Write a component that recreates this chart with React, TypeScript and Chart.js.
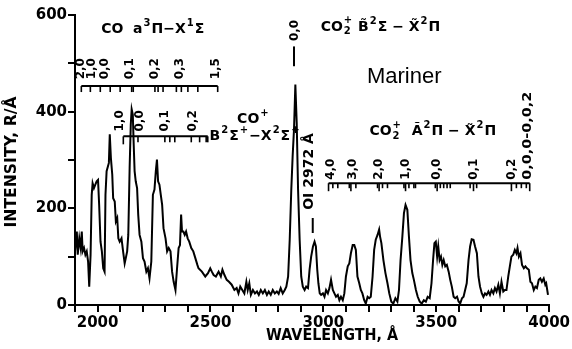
import React, { useEffect, useRef } from 'react';
import { Chart, registerables } from 'chart.js';

Chart.register(...registerables);

// Spectrum (wavelength in Å, intensity in R/Å)
const wavelength = [
  1900, 1908, 1912, 1919, 1925, 1930, 1934, 1940, 1946, 1952, 1958, 1963, 1969, 1974, 1978, 1984, 1990, 1996,
  2002, 2007, 2013, 2019, 2025, 2031, 2035, 2040, 2046, 2050, 2054, 2059, 2065, 2069, 2076, 2081, 2087, 2092,
  2098, 2106, 2113, 2120, 2125, 2131, 2136, 2142, 2147, 2151, 2156, 2160, 2164, 2169, 2175, 2180, 2186, 2194,
  2201, 2208, 2216, 2223, 2230, 2238, 2245, 2252, 2258, 2263, 2268, 2274, 2280, 2286, 2292, 2301, 2308, 2315,
  2323, 2330, 2337, 2345, 2352, 2359, 2365, 2370, 2374, 2380, 2386, 2392, 2399, 2406, 2415, 2424, 2433, 2442,
  2447, 2462, 2477, 2489, 2499, 2506, 2514, 2524, 2536, 2546, 2553, 2562, 2572, 2582, 2594, 2606, 2616, 2624,
  2632, 2641, 2650, 2659, 2665, 2672, 2679, 2688, 2697, 2706, 2714, 2723, 2732, 2741, 2750, 2758, 2767, 2776,
  2785, 2794, 2802, 2811, 2820, 2829, 2836, 2844, 2851, 2858, 2864, 2870, 2876, 2882, 2888, 2895, 2902, 2909,
  2917, 2924, 2932, 2939, 2946, 2954, 2961, 2967, 2973, 2978, 2984, 2990, 2998, 3005, 3012, 3020, 3027, 3034,
  3042, 3049, 3056, 3064, 3071, 3078, 3086, 3093, 3100, 3108, 3115, 3122, 3130, 3137, 3144, 3151, 3159, 3166,
  3173, 3181, 3188, 3196, 3203, 3210, 3218, 3225, 3232, 3240, 3247, 3251, 3257, 3266, 3275, 3284, 3292, 3301,
  3310, 3319, 3328, 3335, 3342, 3350, 3357, 3364, 3372, 3379, 3386, 3394, 3401, 3410, 3418, 3427, 3436, 3445,
  3454, 3462, 3471, 3479, 3486, 3492, 3498, 3504, 3509, 3515, 3521, 3527, 3533, 3540, 3547, 3555, 3562, 3569,
  3577, 3584, 3592, 3599, 3606, 3614, 3621, 3628, 3635, 3643, 3650, 3657, 3665, 3672, 3680, 3687, 3694, 3702,
  3709, 3716, 3723, 3731, 3738, 3745, 3753, 3760, 3767, 3775, 3782, 3789, 3797, 3804, 3811, 3819, 3826, 3833,
  3841, 3848, 3855, 3860, 3866, 3873, 3880, 3888, 3895, 3902, 3910, 3917, 3924, 3932, 3939, 3946, 3954, 3961,
  3968, 3976, 3983, 3987, 3995,
];
const intensity = [
  111, 152, 104, 138, 118, 152, 111, 118, 104, 111, 90, 38, 104, 228, 252, 242, 249, 256,
  259, 207, 131, 111, 76, 69, 228, 277, 287, 294, 353, 304, 270, 221, 214, 173, 180, 138,
  131, 138, 111, 86, 97, 111, 145, 284, 373, 405, 394, 332, 277, 256, 242, 187, 145, 131,
  97, 90, 69, 76, 55, 90, 228, 239, 277, 301, 256, 249, 228, 207, 159, 138, 111, 118,
  111, 69, 48, 31, 76, 118, 124, 187, 152, 152, 145, 152, 138, 131, 118, 111, 97, 83,
  76, 69, 59, 66, 76, 69, 62, 59, 69, 59, 73, 62, 52, 48, 42, 31, 35, 24,
  38, 31, 24, 48, 31, 45, 21, 31, 24, 28, 21, 31, 24, 31, 21, 28, 21, 31,
  24, 28, 23, 35, 24, 31, 38, 59, 135, 239, 308, 363, 456, 377, 239, 135, 59, 38,
  31, 38, 35, 73, 100, 121, 131, 121, 73, 45, 24, 21, 24, 17, 31, 24, 35, 52,
  31, 24, 17, 21, 10, 17, 10, 24, 59, 80, 86, 107, 124, 124, 114, 59, 45, 31,
  24, 10, 3, 17, 14, 17, 59, 114, 135, 145, 156, 142, 128, 93, 66, 45, 24, 7,
  3, 14, 7, 31, 93, 142, 190, 207, 197, 142, 93, 66, 52, 31, 17, 7, 3, 10,
  7, 17, 14, 45, 93, 128, 131, 100, 121, 93, 100, 83, 93, 80, 83, 69, 52, 38,
  17, 14, 17, 7, 3, 14, 17, 31, 45, 93, 121, 136, 135, 121, 107, 59, 38, 24,
  17, 24, 21, 28, 21, 31, 24, 35, 28, 42, 24, 48, 28, 31, 31, 59, 80, 100,
  104, 114, 107, 118, 100, 107, 83, 76, 80, 76, 73, 48, 45, 31, 38, 35, 52, 55,
  48, 55, 42, 45, 21,
];

// Band identifications (label positions in Å, tick positions in Å)
const coCameronLabels = ['2,0', '1,0', '0,0', '0,1', '0,2', '0,3', '1,5'];
const coCameronLabelPos = [1924, 1975, 2034, 2144, 2254, 2364, 2525];
const coCameronTicks = [1928, 1968, 2012, 2056, 2100, 2151, 2158, 2254, 2268, 2290, 2349, 2371, 2400, 2444, 2532];

const coPlusLabels = ['1,0', '0,0', '0,1', '0,2'];
const coPlusLabelPos = [2100, 2188, 2298, 2421];
const coPlusTicks = [2114, 2179, 2298, 2320, 2342, 2415, 2452, 2481, 2488];

const co2AXLabels = ['4,0', '3,0', '2,0', '1,0', '0,0', '0,1', '0,2', '0,0,0-0,0,2'];
const co2AXLabelPos = [3034, 3130, 3247, 3367, 3503, 3665, 3833, 3904];
const co2AXTicks = [3023, 3042, 3064, 3115, 3122, 3144, 3240, 3247, 3262, 3284, 3357, 3364, 3379, 3401, 3408,
  3496, 3504, 3518, 3533, 3548, 3562, 3650, 3665, 3679, 3833, 3855, 3877, 3899, 3914];
const co2AXMajor = [3023, 3122, 3247, 3364, 3504, 3665, 3833, 3914];

const co2BXLabel = '0,0';
const co2BXPos = 2870;
const oiLabel = 'OI 2972 Å';
const oiPos = 2953;

const xTitle = 'WAVELENGTH, Å';
const yTitle = 'INTENSITY, R/Å';
const mission = 'Mariner';

const FONT = '"DejaVu Sans", sans-serif';

type Seg = [string, string?, string?];

function drawRich(ctx: CanvasRenderingContext2D, segs: Seg[], x: number, y: number, size: number) {
  let cx = x;
  ctx.textBaseline = 'middle';
  ctx.textAlign = 'left';
  const small = Math.round(size * 0.7);
  for (const [t, kind, t2] of segs) {
    if (!kind) {
      ctx.font = `bold ${size}px ${FONT}`;
      ctx.fillText(t, cx, y);
      cx += ctx.measureText(t).width;
    } else if (kind === 'sup') {
      ctx.font = `bold ${small}px ${FONT}`;
      ctx.fillText(t, cx + 1, y - size * 0.4);
      cx += ctx.measureText(t).width + 2;
    } else {
      ctx.font = `bold ${small}px ${FONT}`;
      ctx.fillText(t, cx + 1, y + size * 0.32);
      ctx.fillText(t2 || '', cx + 1, y - size * 0.45);
      cx += Math.max(ctx.measureText(t).width, ctx.measureText(t2 || '').width) + 2;
    }
  }
}

function drawVertical(ctx: CanvasRenderingContext2D, text: string, x: number, yBottom: number, size: number, length?: number) {
  ctx.save();
  ctx.translate(x, yBottom);
  ctx.rotate(-Math.PI / 2);
  ctx.font = `bold ${size}px ${FONT}`;
  if (length) {
    const w = ctx.measureText(text).width;
    ctx.scale(length / w, 1);
  }
  ctx.textAlign = 'left';
  ctx.textBaseline = 'middle';
  ctx.fillText(text, 0, 0);
  ctx.restore();
}

function drawFitted(ctx: CanvasRenderingContext2D, text: string, cx: number, cy: number, size: number, width: number, rotate: boolean) {
  ctx.save();
  ctx.translate(cx, cy);
  if (rotate) ctx.rotate(-Math.PI / 2);
  ctx.font = `bold ${size}px ${FONT}`;
  const w = ctx.measureText(text).width;
  ctx.scale(width / w, 1);
  ctx.textAlign = 'center';
  ctx.textBaseline = 'middle';
  ctx.fillText(text, 0, 0);
  ctx.restore();
}

const annotationPlugin = {
  id: 'bandAnnotations',
  afterDatasetsDraw(chart: any) {
    const { ctx, scales } = chart;
    const px = (v: number) => scales.x.getPixelForValue(v);
    const py = (v: number) => scales.y.getPixelForValue(v);
    ctx.save();
    ctx.fillStyle = '#000';
    ctx.strokeStyle = '#000';
    ctx.lineWidth = 2;

    const bracket = (ticks: number[], level: number, len: (t: number) => number) => {
      const yy = py(level);
      ctx.lineWidth = 2;
      ctx.beginPath();
      ctx.moveTo(px(ticks[0]), yy);
      ctx.lineTo(px(ticks[ticks.length - 1]), yy);
      ctx.stroke();
      ctx.lineWidth = 1.6;
      ticks.forEach((t) => {
        ctx.beginPath();
        ctx.moveTo(px(t), yy);
        ctx.lineTo(px(t), yy + len(t));
        ctx.stroke();
      });
      ctx.lineWidth = 2;
    };

    // CO Cameron bands
    bracket(coCameronTicks, 453, () => 6);
    coCameronLabels.forEach((l, i) => drawVertical(ctx, l, px(coCameronLabelPos[i]), py(467), 12));
    drawRich(ctx, [['CO  a'], ['3', 'sup'], ['Π−X'], ['1', 'sup'], ['Σ']], px(2016), py(570), 14);

    // CO+ first negative
    bracket(coPlusTicks, 349, (t) => (t === coPlusTicks[0] ? 8 : 6));
    coPlusLabels.forEach((l, i) => drawVertical(ctx, l, px(coPlusLabelPos[i]), py(359), 12));
    drawRich(ctx, [['CO'], ['+', 'sup']], px(2618), py(384), 14);
    drawRich(ctx, [['B'], ['2', 'sup'], ['Σ'], ['+', 'sup'], ['−X'], ['2', 'sup'], ['Σ'], ['+', 'sup']], px(2496), py(349), 14);

    // CO2+ B-X (0,0)
    ctx.beginPath();
    ctx.moveTo(px(co2BXPos), py(535));
    ctx.lineTo(px(co2BXPos), py(494));
    ctx.stroke();
    drawVertical(ctx, co2BXLabel, px(co2BXPos) + 1, py(546), 12);
    drawRich(ctx, [['CO'], ['2', 'ss', '+'], [' B\u0303'], ['2', 'sup'], ['Σ − X\u0303'], ['2', 'sup'], ['Π']], px(2988), py(575), 14);

    // Mariner
    ctx.font = '22px "Liberation Sans", Arial, sans-serif';
    ctx.textAlign = 'center';
    ctx.textBaseline = 'middle';
    ctx.fillText(mission, px(3358), py(471));

    // OI 2972
    ctx.beginPath();
    ctx.moveTo(px(oiPos), py(180));
    ctx.lineTo(px(oiPos), py(149));
    ctx.stroke();
    drawVertical(ctx, oiLabel, px(oiPos) - 3, py(197), 14);

    // CO2+ A-X
    bracket(co2AXTicks, 252, (t) => (co2AXMajor.includes(t) ? 8 : 5));
    co2AXLabels.forEach((l, i) =>
      drawVertical(ctx, l, px(co2AXLabelPos[i]), py(259), 12, l.length > 4 ? 88 : undefined)
    );
    drawRich(ctx, [['CO'], ['2', 'ss', '+'], ['  A\u0303'], ['2', 'sup'], ['Π − X\u0303'], ['2', 'sup'], ['Π']], px(3204), py(359), 14);

    // Axis titles
    drawFitted(ctx, xTitle, 332, 336, 16, 132, false);
    drawFitted(ctx, yTitle, 12, 162, 16, 131, true);

    ctx.restore();
  },
};

export default function App() {
  const canvasRef = useRef<HTMLCanvasElement | null>(null);

  useEffect(() => {
    const canvas = canvasRef.current;
    if (!canvas) return;
    const points = wavelength.map((w, i) => ({ x: w, y: intensity[i] }));
    const tickFont = { family: FONT, size: 15, weight: 'bold' };
    const chart = new Chart(canvas, {
      type: 'line',
      data: {
        datasets: [
          {
            data: points,
            borderColor: '#000',
            borderWidth: 2,
            pointRadius: 0,
            tension: 0,
            fill: false,
          },
        ],
      },
      options: {
        animation: false,
        responsive: false,
        devicePixelRatio: 1,
        layout: { padding: { top: 15, right: 19, left: 0, bottom: 0 } },
        plugins: {
          legend: { display: false },
          tooltip: { enabled: false },
          title: { display: false },
        },
        scales: {
          x: {
            type: 'linear',
            min: 1900,
            max: 4000,
            ticks: {
              stepSize: 100,
              autoSkip: false,
              maxRotation: 0,
              padding: 2,
              color: '#000',
              font: tickFont,
              callback: (v: any) => (Number(v) % 500 === 0 ? String(v) : ''),
            },
            grid: { drawOnChartArea: false, drawTicks: true, tickLength: 7, color: '#000', lineWidth: 2 },
            border: { display: true, color: '#000', width: 2 },
            afterFit: (s: any) => {
              s.height = 44;
            },
          },
          y: {
            min: 0,
            max: 600,
            ticks: {
              stepSize: 100,
              autoSkip: false,
              padding: 1,
              color: '#000',
              font: tickFont,
              callback: (v: any) => (Number(v) % 200 === 0 ? String(v) : ''),
            },
            grid: { drawOnChartArea: false, drawTicks: true, tickLength: 7, color: '#000', lineWidth: 2 },
            border: { display: true, color: '#000', width: 2 },
            afterFit: (s: any) => {
              s.width = 75;
            },
          },
        },
      } as any,
      plugins: [annotationPlugin],
    });
    return () => chart.destroy();
  }, []);

  return (
    <div style={{ position: 'absolute', left: 0, top: 0, width: 572, height: 349, background: '#fff' }}>
      <canvas ref={canvasRef} width={572} height={349} style={{ width: 572, height: 349 }} />
    </div>
  );
}
